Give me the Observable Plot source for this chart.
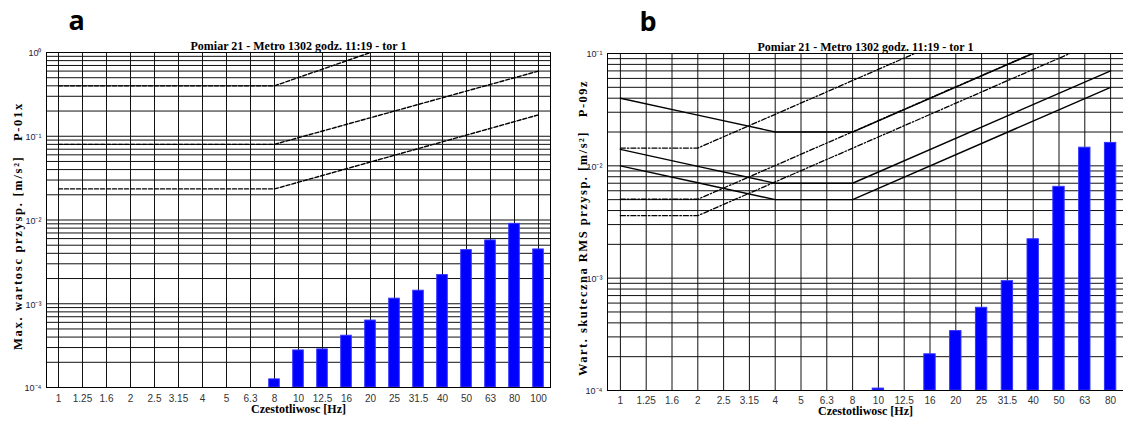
<!DOCTYPE html>
<html>
<head>
<meta charset="utf-8">
<script src="https://cdn.jsdelivr.net/npm/d3@7"></script>
<script src="https://cdn.jsdelivr.net/npm/@observablehq/plot@0.6"></script>
<style>
  body { margin: 0; background: #fff; }
  #wrap { position: relative; width: 1123px; height: 422px; overflow: hidden; background: #fff; }
</style>
</head>
<body>
<div id="wrap"></div>
<script>
// One-third octave band centre frequencies [Hz]
const freqsA = ["1", "1.25", "1.6", "2", "2.5", "3.15", "4", "5", "6.3", "8", "10",
                "12.5", "16", "20", "25", "31.5", "40", "50", "63", "80", "100"];
const freqsB = ["1", "1.25", "1.6", "2", "2.5", "3.15", "4", "5", "6.3", "8", "10",
                "12.5", "16", "20", "25", "31.5", "40", "50", "63", "80"];

// Peak acceleration per band, channel P-01x [m/s2] (null = no reading)
const peakX = [1e-4, 1e-4, 1e-4, 1e-4, 1e-4, 1e-4, 1e-4, 1e-4, null, 1.25e-4, 2.77e-4,
               2.85e-4, 4.15e-4, 6.3e-4, 1.15e-3, 1.43e-3, 2.2e-3, 4.37e-3, 5.7e-3, 9.0e-3, 4.45e-3];
// RMS acceleration per band, channel P-09z [m/s2]
const rmsZ = [1e-4, 1e-4, 1e-4, 1e-4, 1e-4, 1e-4, 1e-4, 1e-4, 1e-4, 1e-4, 1.04e-4,
              1e-4, 2.1e-4, 3.38e-4, 5.45e-4, 9.4e-4, 2.22e-3, 6.5e-3, 1.45e-2, 1.6e-2];

// Limit curves for peak values (band, m/s2) - dashed
const peakLimitHigh = [["1", 0.4], ["8", 0.4], ["20", 1.0]];
const peakLimitMid  = [["1", 0.08], ["8", 0.08], ["100", 0.6]];
const peakLimitLow  = [["1", 0.0235], ["8", 0.0235], ["100", 0.18]];

// Limit curves for vertical RMS (band, m/s2) - solid
const zLimit4   = [["1", 0.04], ["2", 0.0283], ["4", 0.02], ["8", 0.02], ["80", 0.2]];
const zLimit14  = [["1", 0.014], ["2", 0.0099], ["4", 0.007], ["8", 0.007], ["80", 0.07]];
const zLimit1   = [["1", 0.01], ["2", 0.00707], ["4", 0.005], ["8", 0.005], ["80", 0.05]];
// Limit curves for horizontal RMS (band, m/s2) - dash-dot
const xyLimit4  = [["1", 0.0144], ["2", 0.0144], ["80", 0.576]];
const xyLimit14 = [["1", 0.00504], ["2", 0.00504], ["80", 0.2016]];
const xyLimit1  = [["1", 0.0036], ["2", 0.0036], ["80", 0.144]];

const panelTags = ["a", "b"];
const titleText = "Pomiar 21 - Metro 1302 godz. 11:19 - tor 1";
const xLabelText = "Czestotliwosc [Hz]";
const serif = "'Liberation Serif', 'Times New Roman', serif";
const sans = "'Liberation Sans', Arial, sans-serif";
const tagFont = "'Open Sans', 'Liberation Sans', sans-serif";

const sup = {"0": "\u2070", "1": "\u00b9", "2": "\u00b2", "3": "\u00b3", "4": "\u2074", "-": "\u207b"};
const powerLabel = v => "10" + String(Math.round(Math.log10(v))).split("").map(c => sup[c]).join("");

const wrap = document.getElementById("wrap");

function panel({tag, tagDx, freqs, values, curves, yDomain, width, left, margins, yLabel, tickDy}) {
  const bars = freqs.map((f, i) => ({f, v: values[i]})).filter(d => d.v != null);
  const yFloor = yDomain[0];
  const yGrid = d3.scaleLog().domain(yDomain).ticks();
  const decades = yGrid.filter(v => Math.abs(Math.log10(v) - Math.round(Math.log10(v))) < 1e-9);

  const chart = Plot.plot({
    width,
    height: 422,
    marginLeft: margins.left,
    marginRight: margins.right,
    marginTop: margins.top,
    marginBottom: margins.bottom,
    style: {background: "transparent", fontFamily: sans, overflow: "visible"},
    x: {type: "band", domain: freqs, paddingInner: 0.56, paddingOuter: 0.28, round: false, axis: null},
    y: {type: "log", domain: yDomain, axis: null},
    marks: [
      // grid
      Plot.ruleY(yGrid, {y: d => d, stroke: "#111", strokeWidth: 1}),
      Plot.ruleX(freqs, {x: d => d, stroke: "#111", strokeWidth: 1}),
      // band values
      Plot.barY(bars, {x: "f", y1: () => yFloor, y2: "v", fill: "#0000ff", stroke: "#3333ff", strokeWidth: 1}),
      // limit curves
      ...curves.map(c => Plot.line(c.points, {
        x: d => d[0], y: d => d[1], stroke: "#000", strokeWidth: c.width,
        strokeDasharray: c.dash, clip: true
      })),
      Plot.frame({stroke: "#000", strokeWidth: 1}),
      // tick labels
      Plot.text(decades, {y: d => d, frameAnchor: "left", dx: -5, dy: 1, textAnchor: "end",
        text: powerLabel, fontSize: 9, fill: "#1c1c44", fontFamily: sans}),
      Plot.text(freqs, {x: d => d, frameAnchor: "bottom", dy: tickDy, text: d => d,
        fontSize: 10, fill: "#333", fontFamily: sans}),
      // panel tag and titles
      Plot.text([tag], {frameAnchor: "top-left", dx: tagDx, dy: -23, textAnchor: "start",
        lineAnchor: "bottom", fontSize: 27, fontWeight: "bold", fontFamily: tagFont, fill: "#000"}),
      Plot.text([titleText], {frameAnchor: "top", dy: -11, fontSize: 12, fontWeight: "bold",
        fontFamily: serif, fill: "#000"}),
      Plot.text([xLabelText], {frameAnchor: "bottom", dy: tickDy + 11, fontSize: 12, fontWeight: "bold",
        fontFamily: serif, fill: "#000"}),
      Plot.text([yLabel], {frameAnchor: "left", dx: margins.yLabelDx, dy: 6, rotate: -90,
        textAnchor: "middle", fontSize: 12.5, fontWeight: "bold", fontFamily: serif, fill: "#000"})
    ]
  });
  // the rotated axis title is set with wider letter spacing
  for (const t of chart.querySelectorAll("text")) {
    if (t.textContent === yLabel) t.setAttribute("letter-spacing", margins.yLabelSpacing);
  }
  chart.style.position = "absolute";
  chart.style.left = left + "px";
  chart.style.top = "0px";
  wrap.appendChild(chart);
}

panel({
  tag: panelTags[0],
  tagDx: 22,
  freqs: freqsA,
  values: peakX,
  yDomain: [1e-4, 1],
  width: 560,
  left: 0,
  tickDy: 14,
  margins: {left: 46, right: 10, top: 52, bottom: 35, yLabelDx: -29, yLabelSpacing: "1.7"},
  yLabel: "Max. wartosc przysp. [m/s\u00b2]\u00a0\u00a0\u00a0P-01x",
  curves: [
    {points: peakLimitHigh, dash: "4,2", width: 1.4},
    {points: peakLimitMid, dash: "4,2", width: 1.4},
    {points: peakLimitLow, dash: "4,2", width: 1.4}
  ]
});

panel({
  tag: panelTags[1],
  tagDx: 32,
  freqs: freqsB,
  values: rmsZ,
  yDomain: [1e-4, 1e-1],
  width: 563,
  left: 560,
  tickDy: 13,
  margins: {left: 47, right: 0, top: 53, bottom: 32, yLabelDx: -25, yLabelSpacing: "1.5"},
  yLabel: "Wart. skuteczna RMS przysp. [m/s\u00b2]\u00a0\u00a0\u00a0P-09z",
  curves: [
    {points: zLimit4, width: 1.4},
    {points: zLimit14, width: 1.4},
    {points: zLimit1, width: 1.4},
    {points: xyLimit4, dash: "5,2,1.5,2", width: 1.3},
    {points: xyLimit14, dash: "5,2,1.5,2", width: 1.3},
    {points: xyLimit1, dash: "5,2,1.5,2", width: 1.3}
  ]
});
</script>
</body>
</html>
